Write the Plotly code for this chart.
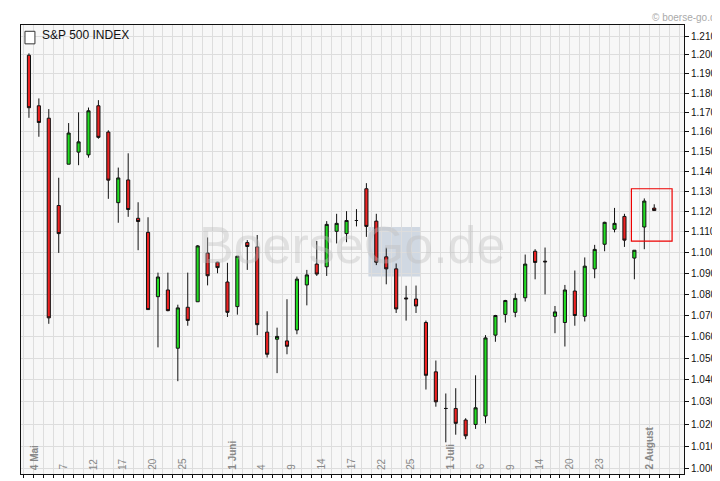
import plotly.graph_objects as go

# S&P 500, May 4 - Aug 3 (points)
opens = [1199.8, 1173.4, 1167.0, 1123.0, 1143.6, 1149.7, 1148.3, 1173.4, 1159.9, 1124.4,
         1135.7, 1116.7, 1109.8, 1078.8, 1082.0, 1054.6, 1073.8, 1076.4, 1099.7, 1095.3,
         1085.8, 1074.1, 1104.8, 1102.7, 1062.1, 1058.8, 1058.0, 1063.1, 1084.4, 1094.4,
         1093.1, 1110.3, 1109.2, 1115.6, 1131.3, 1115.3, 1097.9, 1092.1, 1078.2, 1077.7,
         1066.6, 1043.7, 1027.0, 1027.0, 1021.8, 1019.8, 1023.6, 1060.7, 1070.4, 1071.4,
         1078.3, 1100.6, 1095.8, 1069.5, 1066.6, 1081.5, 1069.5, 1092.1, 1104.0, 1111.3,
         1117.6, 1097.3, 1112.4, 1121.7]
highs = [1200.8, 1177.2, 1171.7, 1136.8, 1164.5, 1170.0, 1172.5, 1176.3, 1160.8, 1141.9,
         1149.1, 1124.6, 1117.2, 1090.3, 1090.3, 1075.0, 1090.3, 1103.6, 1107.3, 1095.5,
         1095.0, 1098.2, 1106.0, 1108.5, 1071.9, 1064.2, 1077.6, 1088.4, 1091.6, 1105.6,
         1115.3, 1118.9, 1120.2, 1121.2, 1134.1, 1118.9, 1102.3, 1094.7, 1084.0, 1084.1,
         1067.5, 1048.9, 1033.8, 1036.2, 1022.6, 1042.1, 1060.7, 1070.2, 1077.3, 1080.4,
         1099.0, 1101.6, 1102.4, 1074.4, 1084.4, 1091.3, 1097.6, 1103.7, 1115.0, 1121.8,
         1118.9, 1101.1, 1126.5, 1123.6]
lows = [1167.2, 1157.5, 1066.0, 1099.8, 1143.6, 1143.1, 1146.9, 1156.5, 1126.3, 1114.5,
        1117.4, 1101.1, 1072.7, 1055.0, 1071.9, 1039.4, 1065.1, 1076.4, 1084.2, 1090.0,
        1069.2, 1070.3, 1091.6, 1060.7, 1050.3, 1043.1, 1051.8, 1061.1, 1074.7, 1088.7,
        1088.7, 1104.4, 1105.0, 1112.7, 1107.6, 1093.9, 1084.7, 1071.1, 1067.5, 1071.1,
        1035.6, 1027.8, 1011.8, 1015.2, 1013.2, 1017.8, 1020.3, 1057.6, 1066.6, 1069.1,
        1076.5, 1087.1, 1079.9, 1061.6, 1055.4, 1065.1, 1067.1, 1087.6, 1100.6, 1109.8,
        1102.7, 1087.1, 1101.6, 1120.5]
closes = [1172.4, 1164.8, 1068.8, 1109.2, 1159.4, 1154.9, 1170.8, 1157.2, 1135.6, 1136.7,
          1121.0, 1115.1, 1072.7, 1088.2, 1072.2, 1073.5, 1067.6, 1103.2, 1088.8, 1092.7,
          1071.4, 1098.2, 1102.9, 1065.6, 1051.8, 1060.1, 1055.5, 1087.2, 1089.2, 1089.6,
          1113.7, 1114.2, 1115.6, 1115.6, 1112.7, 1095.3, 1092.1, 1073.0, 1077.8, 1074.4,
          1042.1, 1030.0, 1027.0, 1020.3, 1014.7, 1027.3, 1059.4, 1069.9, 1077.0, 1078.0,
          1094.4, 1095.2, 1095.5, 1071.6, 1082.0, 1069.9, 1093.4, 1101.5, 1114.7, 1114.2,
          1106.0, 1101.1, 1125.2, 1120.5]

date_labels = ['4 Mai', '7', '12', '17', '20', '25', '1 Juni', '4', '9', '14', '17', '22', '25',
               '1 Juli', '6', '9', '14', '20', '23', '2 August']
label_pos = [0, 3, 6, 9, 12, 15, 20, 23, 26, 29, 32, 35, 38, 42, 45, 48, 51, 54, 57, 62]
month_labels = {'4 Mai', '1 Juni', '1 Juli', '2 August'}
y_ticks = list(range(1000, 1211, 10))

xs = list(range(len(opens)))

fig = go.Figure(go.Candlestick(
    x=xs, open=opens, high=highs, low=lows, close=closes,
    increasing=dict(fillcolor='#22dd22', line=dict(color='#111111', width=1)),
    decreasing=dict(fillcolor='#ee2222', line=dict(color='#111111', width=1)),
    whiskerwidth=0, showlegend=False, hoverinfo='skip'))

annotations = []
for lab, p in zip(date_labels, label_pos):
    bold = lab in month_labels
    annotations.append(dict(
        x=p + 0.5, y=0.005, xref='x', yref='paper', text=f'<b>{lab}</b>' if bold else lab,
        textangle=-90, showarrow=False, xanchor='center', yanchor='bottom',
        font=dict(size=10, color='#888888')))

annotations += [
    dict(x=0.028, y=0.997, xref='paper', yref='paper', text='S&P 500 INDEX', showarrow=False,
         xanchor='left', yanchor='top', font=dict(size=12, color='#111111')),
    dict(x=1.0, y=1.0, xref='paper', yref='paper', text='© boerse-go.de', showarrow=False,
         xanchor='right', yanchor='bottom', font=dict(size=10, color='#aaaaaa'),
         xshift=40),
    dict(x=32.5, y=0.51, xref='x', yref='paper', text='BoerseGo.de', showarrow=False,
         font=dict(size=52, color='rgba(190,190,190,0.4)')),
]

shapes = [
    dict(type='rect', xref='paper', yref='paper', x0=0.006, x1=0.021, y0=0.958, y1=0.986,
         line=dict(color='#333333', width=1), fillcolor='white'),
    dict(type='rect', xref='x', yref='paper', x0=34.2, x1=39.4, y0=0.44, y1=0.55,
         line=dict(width=0), fillcolor='rgba(150,170,195,0.4)', layer='below'),
    dict(type='rect', xref='x', yref='y', x0=60.7, x1=64.8, y0=1105.5, y1=1131.3,
         line=dict(color='#ee0000', width=1.2)),
]

fig.update_layout(
    width=720, height=481, margin=dict(l=12, r=44, t=17, b=13),
    paper_bgcolor='white', plot_bgcolor='#f7f7f7', boxgap=0.55,
    font=dict(family='Liberation Sans, Arial, sans-serif', size=11, color='#111111'),
    separators=',.', annotations=annotations, shapes=shapes)
fig.update_xaxes(range=[-0.8, 66.0], tick0=0.5, dtick=1, showgrid=True, gridcolor='#dddddd',
                 showticklabels=False, ticks='outside', ticklen=3, tickcolor='#111111',
                 showline=True, linecolor='#111111', mirror=True, zeroline=False,
                 rangeslider=dict(visible=False))
fig.update_yaxes(type='log', range=[2.99904, 3.08489], side='right', tickvals=y_ticks,
                 tickformat=',d', showgrid=True, gridcolor='#dddddd', ticks='outside',
                 ticklen=4, tickcolor='#111111', showline=True, linecolor='#111111',
                 mirror=True, zeroline=False, tickfont=dict(size=10))

fig.write_html('out.html')
